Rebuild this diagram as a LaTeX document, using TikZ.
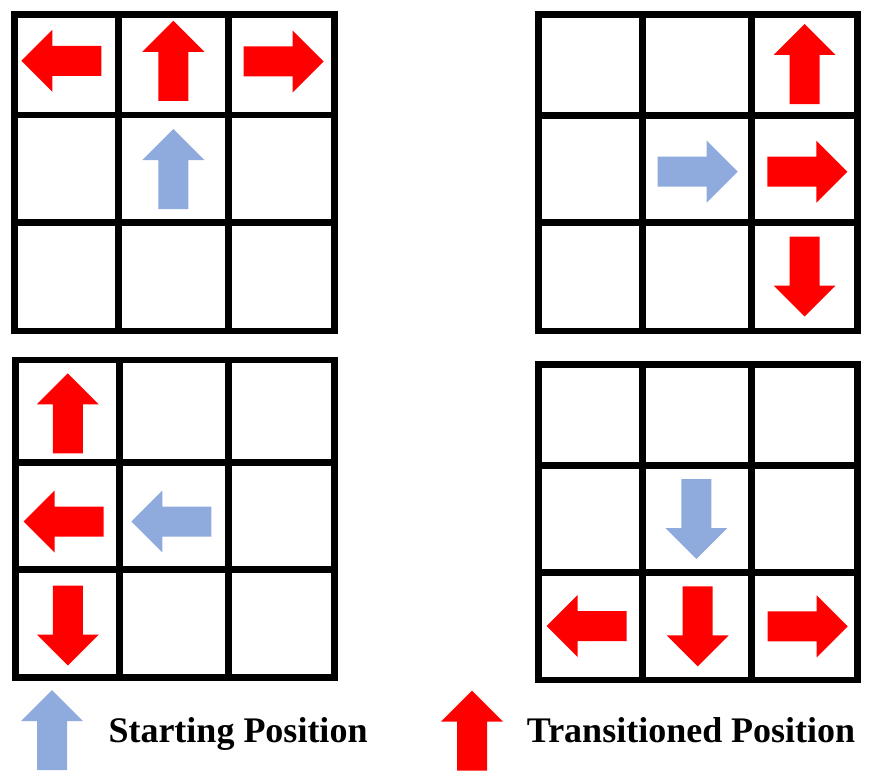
\documentclass[tikz,border=0pt]{standalone}
\usepackage{fontspec}
\setmainfont{Liberation Serif}
\definecolor{startblue}{RGB}{143,170,220}
\definecolor{transred}{RGB}{255,0,0}
\tikzset{
  gridline/.style={line width=6.6pt, draw=black, line join=miter},
  bigarrow/.pic={\fill (-40,-15) -- (9,-15) -- (9,-31) -- (40,0) -- (9,31) -- (9,15) -- (-40,15) -- cycle;},
  pright/.style={rotate=0},
  pup/.style={rotate=90},
  pleft/.style={rotate=180},
  pdown/.style={rotate=-90},
  startarr/.style={fill=startblue},
  transarr/.style={fill=transred},
  legendtext/.style={anchor=base west, inner sep=0pt, font=\bfseries\fontsize{36}{40}\selectfont}
}
\begin{document}
\begin{tikzpicture}[x=1pt,y=-1pt]
\useasboundingbox (0,0) rectangle (873,776);
% grids
\draw[gridline] (14.5,14.5) rectangle (334.5,331)
  (118.5,14.5) -- (118.5,331) (228.5,14.5) -- (228.5,331)
  (14.5,115) -- (334.5,115) (14.5,222.5) -- (334.5,222.5);
\draw[gridline] (538.5,14.5) rectangle (857.5,331)
  (642.5,14.5) -- (642.5,331) (751.5,14.5) -- (751.5,331)
  (538.5,115.5) -- (857.5,115.5) (538.5,222.5) -- (857.5,222.5);
\draw[gridline] (15.7,360) rectangle (334.3,677.3)
  (119.3,360) -- (119.3,677.3) (228.3,360) -- (228.3,677.3)
  (15.7,462.3) -- (334.3,462.3) (15.7,569.3) -- (334.3,569.3);
\draw[gridline] (538.5,364.5) rectangle (857.5,680)
  (642.5,364.5) -- (642.5,680) (751.5,364.5) -- (751.5,680)
  (538.5,465.5) -- (857.5,465.5) (538.5,572.5) -- (857.5,572.5);
% top-left arrows
\pic[transarr,pleft] at (61.3,60.8) {bigarrow};
\pic[transarr,pup] at (173.3,60.8) {bigarrow};
\pic[transarr,pright] at (283.7,61.5) {bigarrow};
\pic[startarr,pup] at (173.3,169) {bigarrow};
% top-right arrows
\pic[transarr,pup] at (804.5,64) {bigarrow};
\pic[startarr,pright] at (697.7,171.7) {bigarrow};
\pic[transarr,pright] at (807.3,171.7) {bigarrow};
\pic[transarr,pdown] at (804.5,276.5) {bigarrow};
% bottom-left arrows
\pic[transarr,pup] at (67.8,413.3) {bigarrow};
\pic[transarr,pleft] at (63.7,521.5) {bigarrow};
\pic[startarr,pleft] at (171.3,521.5) {bigarrow};
\pic[transarr,pdown] at (67.8,625.5) {bigarrow};
% bottom-right arrows
\pic[startarr,pdown] at (696.3,519) {bigarrow};
\pic[transarr,pdown] at (697.7,626.3) {bigarrow};
\pic[transarr,pleft] at (586.5,626) {bigarrow};
\pic[transarr,pright] at (807.7,626.3) {bigarrow};
% legend
\pic[startarr,pup] at (52,730) {bigarrow};
\node[legendtext] (lstart) at (108.3,742.7) {Starting Position};
\pic[transarr,pup] at (472,730.5) {bigarrow};
\node[legendtext] (ltrans) at (526.7,742.7) {Transitioned Position};
\end{tikzpicture}
\end{document}
